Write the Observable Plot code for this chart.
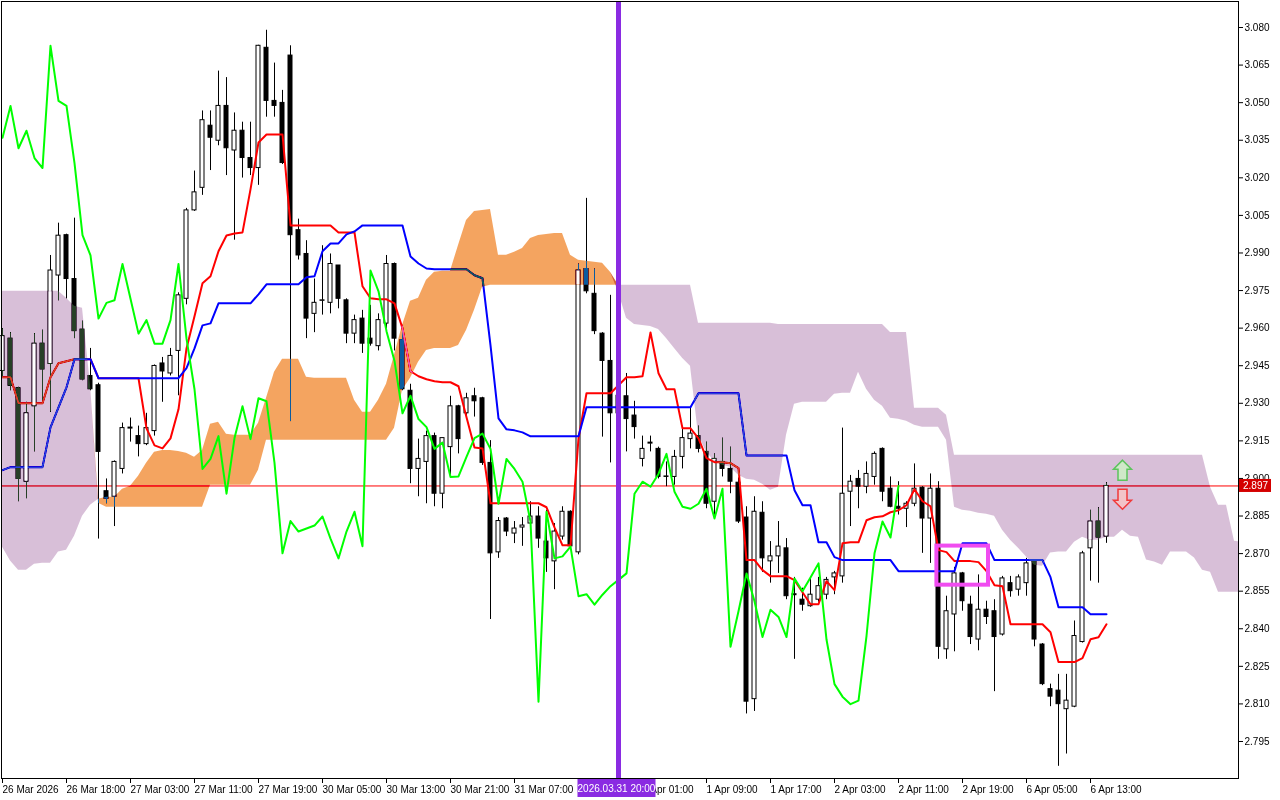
<!DOCTYPE html>
<html>
<head>
<meta charset="utf-8">
<script src="https://cdn.jsdelivr.net/npm/d3@7"></script>
<script src="https://cdn.jsdelivr.net/npm/@observablehq/plot@0.6"></script>
<style>
  html, body { margin: 0; padding: 0; background: #ffffff; }
  #chart { width: 1280px; height: 800px; overflow: hidden; }
  #chart svg { display: block; }
</style>
</head>
<body>
<div id="chart"></div>
<script>
// ---------- DATA (hourly bars, index 0 = 26 Mar 2026 10:00) ----------
const opens = [2.9429,2.9558,2.9360,2.8987,2.9288,2.9538,2.9457,2.9810,2.9971,2.9796,
 2.9594,2.9409,2.9372,2.8949,2.8927,2.9038,2.9199,2.9169,2.9137,2.9189,
 2.9459,2.9419,2.9509,2.9717,3.0070,3.0160,3.0408,3.0348,3.0487,3.0309,
 3.0388,3.0279,3.0239,3.0719,3.0507,3.0499,3.0688,2.9991,2.9896,2.9657,
 2.9709,2.9701,2.9850,2.9711,2.9578,2.9638,2.9558,2.9528,2.9618,2.9856,
 2.9552,2.9350,2.9038,2.9066,2.9169,2.8939,2.9125,2.9288,2.9260,2.9328,
 2.9320,2.9062,2.8705,2.8840,2.8780,2.8804,2.8820,2.8848,2.8748,2.8669,
 2.8768,2.8867,2.8705,2.9836,2.9737,2.9578,2.9469,2.9260,2.9328,2.9251,
 2.9078,2.9139,2.9118,2.9006,2.9006,2.9086,2.9157,2.9169,2.9106,2.8907,
 2.9066,2.9038,2.8983,2.8844,2.8119,2.8863,2.8669,2.8689,2.8721,2.8534,
 2.8516,2.8490,2.8516,2.8536,2.8605,2.8609,2.8947,2.8998,2.8967,2.9006,
 2.9118,2.8959,2.8887,2.8879,2.8899,2.8963,2.8840,2.8959,2.8318,2.8457,
 2.8621,2.8496,2.8357,2.8476,2.8470,2.8377,2.8582,2.8556,2.8582,2.8669,
 2.8337,2.8159,2.8153,2.8079,2.8089,2.8347,2.8721,2.8828,2.8768];
const highs = [2.9598,2.9582,2.9364,2.9304,2.9578,2.9592,2.9890,3.0019,2.9975,3.0039,
 2.9628,2.9519,2.9380,2.8998,2.9070,2.9221,2.9241,2.9209,2.9260,2.9453,
 2.9483,2.9519,2.9741,3.0078,3.0227,3.0467,3.0467,3.0626,3.0600,3.0459,
 3.0422,3.0422,3.0729,3.0789,3.0658,3.0549,3.0727,3.0035,2.9949,2.9796,
 2.9929,2.9896,2.9850,2.9717,2.9652,2.9671,2.9691,2.9657,2.9890,2.9860,
 2.9598,2.9376,2.9157,2.9189,2.9181,2.9161,2.9328,2.9292,2.9340,2.9360,
 2.9324,2.9151,2.8844,2.8844,2.8828,2.8844,2.8907,2.8887,2.8873,2.8820,
 2.8887,2.8871,2.9856,3.0118,2.9836,2.9582,2.9731,2.9370,2.9419,2.9308,
 2.9169,2.9169,2.9125,2.9066,2.9112,2.9197,2.9280,2.9209,2.9145,2.9098,
 2.9161,2.9125,2.9002,2.8887,2.8927,2.8907,2.8748,2.8828,2.8760,2.8605,
 2.8562,2.8601,2.8605,2.8605,2.8629,2.9201,2.9012,2.9032,2.9066,2.9106,
 2.9122,2.9006,2.8987,2.8907,2.9058,2.8967,2.9018,2.8987,2.8530,2.8645,
 2.8625,2.8530,2.8615,2.8510,2.8516,2.8609,2.8609,2.8615,2.8681,2.8675,
 2.8341,2.8179,2.8218,2.8218,2.8431,2.8709,2.8873,2.8883,2.8983];
const lows = [2.9399,2.9350,2.8907,2.8919,2.9106,2.9310,2.9264,2.9709,2.9717,2.9558,
 2.9390,2.9350,2.8758,2.8899,2.8808,2.9018,2.9145,2.9086,2.9131,2.9169,
 2.9304,2.9409,2.9330,2.9693,3.0066,3.0130,3.0229,3.0328,3.0209,2.9951,
 3.0199,3.0209,3.0170,3.0442,3.0442,3.0253,2.9227,2.9872,2.9558,2.9582,
 2.9652,2.9657,2.9677,2.9538,2.9538,2.9499,2.9528,2.9509,2.9598,2.9509,
 2.9350,2.8979,2.8927,2.8899,2.8887,2.8879,2.9006,2.9098,2.9241,2.9245,
 2.9052,2.8437,2.8681,2.8768,2.8740,2.8729,2.8804,2.8721,2.8625,2.8556,
 2.8754,2.8721,2.8695,2.9737,2.9574,2.9165,2.9062,2.9220,2.9106,2.9157,
 2.9046,2.9106,2.8998,2.8967,2.8973,2.9038,2.9118,2.9102,2.8879,2.8848,
 2.9006,2.8939,2.8820,2.8060,2.8070,2.8625,2.8582,2.8621,2.8516,2.8278,
 2.8470,2.8486,2.8506,2.8516,2.8536,2.8582,2.8808,2.8879,2.8939,2.8973,
 2.8907,2.8883,2.8854,2.8804,2.8887,2.8701,2.8661,2.8278,2.8278,2.8308,
 2.8470,2.8337,2.8312,2.8417,2.8149,2.8371,2.8526,2.8530,2.8530,2.8328,
 2.8173,2.8089,2.7851,2.7900,2.8085,2.8343,2.8590,2.8582,2.8741];
const closes = [2.9568,2.9370,2.8998,2.9260,2.9538,2.9435,2.9830,2.9969,2.9796,2.9588,
 2.9395,2.9356,2.9106,2.8919,2.9066,2.9201,2.9203,2.9137,2.9201,2.9449,
 2.9427,2.9489,2.9731,3.0070,3.0142,3.0430,3.0360,3.0487,3.0318,3.0388,
 3.0279,3.0239,3.0727,3.0507,3.0487,3.0259,2.9971,2.9890,2.9638,2.9701,
 2.9711,2.9856,2.9717,2.9578,2.9632,2.9538,2.9538,2.9632,2.9856,2.9558,
 2.9356,2.9038,2.9078,2.9169,2.8939,2.9161,2.9288,2.9157,2.9320,2.9308,
 2.9062,2.8701,2.8830,2.8788,2.8800,2.8812,2.8848,2.8760,2.8681,2.8788,
 2.8867,2.8729,2.9830,2.9747,2.9588,2.9469,2.9260,2.9330,2.9237,2.9205,
 2.9118,2.9143,2.9006,2.9008,2.9086,2.9161,2.9179,2.9118,2.8899,2.9078,
 2.9038,2.8987,2.8828,2.8109,2.8867,2.8681,2.8689,2.8728,2.8530,2.8538,
 2.8496,2.8536,2.8570,2.8595,2.8621,2.8939,2.8987,2.8967,2.9018,2.9098,
 2.8947,2.8887,2.8879,2.8899,2.8959,2.8840,2.8959,2.8328,2.8470,2.8621,
 2.8510,2.8367,2.8476,2.8447,2.8367,2.8601,2.8550,2.8605,2.8661,2.8357,
 2.8179,2.8129,2.8099,2.8113,2.8371,2.8701,2.8828,2.8764,2.8970];

// Ichimoku lines
const tenkan = [2.9404,2.9404,2.9300,2.9300,2.9300,2.9300,2.9404,2.9460,2.9468,2.9476,
 2.9476,2.9476,2.9400,2.9400,2.9400,2.9400,2.9400,2.9400,2.9200,2.9132,
 2.9120,2.9160,2.9276,2.9519,2.9647,2.9779,2.9807,2.9907,2.9970,2.9978,
 2.9982,3.0154,3.0341,3.0373,3.0373,3.0373,3.0010,3.0010,3.0010,3.0010,
 3.0010,3.0010,2.9982,2.9982,2.9982,2.9767,2.9719,2.9715,2.9715,2.9699,
 2.9599,2.9428,2.9408,2.9396,2.9388,2.9384,2.9384,2.9368,2.9244,2.9124,
 2.9120,2.8901,2.8901,2.8901,2.8901,2.8901,2.8901,2.8901,2.8885,2.8805,
 2.8733,2.8733,2.9160,2.9340,2.9340,2.9340,2.9340,2.9372,2.9404,2.9404,
 2.9408,2.9583,2.9420,2.9356,2.9356,2.9200,2.9200,2.9160,2.9081,2.9065,
 2.9065,2.9061,2.9041,2.8674,2.8674,2.8634,2.8610,2.8610,2.8610,2.8594,
 2.8546,2.8498,2.8498,2.8590,2.8554,2.8741,2.8745,2.8745,2.8833,2.8845,
 2.8849,2.8865,2.8873,2.8893,2.8957,2.8909,2.8889,2.8714,2.8706,2.8670,
 2.8670,2.8670,2.8666,2.8630,2.8574,2.8570,2.8418,2.8418,2.8418,2.8418,
 2.8418,2.8386,2.8267,2.8267,2.8267,2.8283,2.8358,2.8366,2.8418];
const kijun = [2.9033,2.9045,2.9045,2.9045,2.9045,2.9045,2.9204,2.9284,2.9364,2.9476,
 2.9476,2.9476,2.9400,2.9400,2.9400,2.9400,2.9400,2.9400,2.9400,2.9400,
 2.9400,2.9400,2.9400,2.9440,2.9519,2.9611,2.9619,2.9699,2.9699,2.9699,
 2.9699,2.9699,2.9735,2.9775,2.9775,2.9775,2.9775,2.9775,2.9803,2.9807,
 2.9907,2.9938,2.9938,2.9974,2.9986,3.0010,3.0010,3.0010,3.0010,3.0010,
 3.0010,2.9886,2.9858,2.9838,2.9835,2.9835,2.9835,2.9835,2.9835,2.9811,
 2.9799,2.9531,2.9240,2.9196,2.9192,2.9184,2.9168,2.9168,2.9168,2.9168,
 2.9168,2.9168,2.9168,2.9284,2.9284,2.9284,2.9284,2.9284,2.9284,2.9284,
 2.9284,2.9284,2.9284,2.9284,2.9284,2.9284,2.9284,2.9340,2.9340,2.9340,
 2.9340,2.9340,2.9340,2.9092,2.9092,2.9092,2.9092,2.9092,2.9092,2.8953,
 2.8893,2.8893,2.8745,2.8745,2.8686,2.8674,2.8674,2.8674,2.8674,2.8674,
 2.8674,2.8674,2.8630,2.8630,2.8630,2.8630,2.8630,2.8630,2.8630,2.8630,
 2.8741,2.8741,2.8741,2.8741,2.8674,2.8674,2.8674,2.8674,2.8674,2.8674,
 2.8674,2.8606,2.8486,2.8486,2.8486,2.8486,2.8458,2.8458,2.8458];
const senkouA = [2.8725,2.8670,2.8634,2.8634,2.8658,2.8662,2.8662,2.8706,2.8713,2.8769,
 2.8849,2.8893,2.8917,2.8925,2.8925,2.8957,2.8969,2.9009,2.9061,2.9105,
 2.9112,2.9112,2.9108,2.9101,2.9085,2.9112,2.9216,2.9224,2.9176,2.9172,
 2.9172,2.9172,2.9220,2.9320,2.9424,2.9476,2.9476,2.9476,2.9404,2.9400,
 2.9400,2.9400,2.9400,2.9400,2.9312,2.9264,2.9264,2.9312,2.9376,2.9492,
 2.9611,2.9707,2.9719,2.9791,2.9823,2.9827,2.9827,2.9930,3.0030,3.0066,
 3.0070,3.0074,2.9891,2.9891,2.9903,2.9918,2.9958,2.9970,2.9974,2.9978,
 2.9978,2.9891,2.9871,2.9867,2.9863,2.9859,2.9823,2.9743,2.9639,2.9615,
 2.9611,2.9607,2.9595,2.9559,2.9519,2.9480,2.9448,2.9172,2.9105,2.9069,
 2.9053,2.9045,2.9013,2.8997,2.8993,2.8977,2.8953,2.8965,2.9172,2.9296,
 2.9304,2.9304,2.9304,2.9304,2.9336,2.9340,2.9340,2.9424,2.9356,2.9312,
 2.9288,2.9240,2.9236,2.9228,2.9212,2.9204,2.9204,2.9204,2.9152,2.8885,
 2.8873,2.8869,2.8861,2.8857,2.8849,2.8793,2.8753,2.8721,2.8686,2.8654,
 2.8650,2.8702,2.8706,2.8706,2.8745,2.8765,2.8753,2.8753,2.8765,2.8765,
 2.8793,2.8769,2.8765,2.8674,2.8666,2.8654,2.8706,2.8706,2.8706,2.8682,
 2.8634,2.8626,2.8546,2.8546,2.8546,2.8546];
const senkouB = [2.9747,2.9747,2.9747,2.9747,2.9747,2.9747,2.9747,2.9747,2.9719,2.9687,
 2.9679,2.9372,2.8901,2.8885,2.8885,2.8885,2.8885,2.8885,2.8885,2.8885,
 2.8885,2.8885,2.8885,2.8885,2.8885,2.8885,2.8973,2.8973,2.8973,2.8973,
 2.8973,2.8973,2.9033,2.9152,2.9152,2.9152,2.9152,2.9152,2.9152,2.9152,
 2.9152,2.9152,2.9152,2.9152,2.9152,2.9152,2.9152,2.9152,2.9152,2.9200,
 2.9352,2.9400,2.9464,2.9511,2.9519,2.9519,2.9519,2.9531,2.9591,2.9671,
 2.9763,2.9771,2.9771,2.9771,2.9771,2.9771,2.9771,2.9771,2.9771,2.9771,
 2.9771,2.9771,2.9771,2.9771,2.9771,2.9771,2.9771,2.9771,2.9771,2.9771,
 2.9771,2.9771,2.9771,2.9771,2.9771,2.9771,2.9771,2.9619,2.9619,2.9619,
 2.9619,2.9619,2.9619,2.9619,2.9619,2.9619,2.9619,2.9615,2.9615,2.9615,
 2.9615,2.9615,2.9615,2.9615,2.9615,2.9615,2.9615,2.9615,2.9615,2.9615,
 2.9615,2.9583,2.9583,2.9583,2.9280,2.9280,2.9280,2.9280,2.9252,2.9093,
 2.9093,2.9093,2.9093,2.9093,2.9093,2.9093,2.9093,2.9093,2.9093,2.9093,
 2.9093,2.9093,2.9093,2.9093,2.9093,2.9093,2.9093,2.9093,2.9093,2.9093,
 2.9093,2.9093,2.9093,2.9093,2.9093,2.9093,2.9093,2.9093,2.9093,2.9093,
 2.9093,2.8965,2.8893,2.8893,2.8749,2.8745];
const chikouShift = 26;

const priceTicks = [2.795,2.810,2.825,2.840,2.855,2.870,2.885,2.900,2.915,2.930,
 2.945,2.960,2.975,2.990,3.005,3.020,3.035,3.050,3.065,3.080];
const timeTickBars = [0,8,16,24,32,40,48,56,64,80,88,96,104,112,120,128,136];
const timeTickLabels = ["26 Mar 2026","26 Mar 18:00","27 Mar 03:00","27 Mar 11:00","27 Mar 19:00",
 "30 Mar 05:00","30 Mar 13:00","30 Mar 21:00","31 Mar 07:00","1 Apr 01:00",
 "1 Apr 09:00","1 Apr 17:00","2 Apr 03:00","2 Apr 11:00","2 Apr 19:00","6 Apr 05:00","6 Apr 13:00"];

const lastPrice = 2.897;
const markerBar = 77;
const markerLabel = "2026.03.31 20:00";
const boxBars = [116.8, 123.25];
const boxPrices = [2.8574, 2.8730];
const arrowUpBars = [140];
const arrowUpPrices = [2.9033];
const arrowDownBars = [140];
const arrowDownPrices = [2.8917];

// ---------- derived tables ----------
const bars = opens.map((o, i) => ({k: i, o, h: highs[i], l: lows[i], c: closes[i]}));
const bull = bars.filter(d => d.c >= d.o);
const bear = bars.filter(d => d.c < d.o);
const tenkanData = tenkan.map((v, i) => ({k: i, v}));
const kijunData = kijun.map((v, i) => ({k: i, v}));
const cloud = senkouA.map((a, i) => ({k: i, a, b: senkouB[i]}));
const chikou = closes.slice(chikouShift).map((c, i) => ({k: i, c}));
const patches = bull.map(d => {
  const cl = cloud[d.k];
  const lo = Math.max(Math.min(d.o, d.c), Math.min(cl.a, cl.b));
  const hi = Math.min(Math.max(d.o, d.c), Math.max(cl.a, cl.b));
  return {k: d.k, lo, hi};
}).filter(p => p.hi > p.lo);
const box = [{x1: boxBars[0], x2: boxBars[1], y1: boxPrices[0], y2: boxPrices[1]}];
const upArrows = arrowUpBars.map((k, i) => ({k, p: arrowUpPrices[i]}));
const downArrows = arrowDownBars.map((k, i) => ({k, p: arrowDownPrices[i]}));

// hollow block-arrow symbols (d3 symbol type interface)
function arrowSymbol(dir) {
  return {
    draw(ctx, size) {
      const r = Math.sqrt(size / Math.PI) / 10;
      const pts = [[0,-10],[9,-1],[4.5,-1],[4.5,10],[-4.5,10],[-4.5,-1],[-9,-1]];
      pts.forEach(([x, y], i) => {
        const yy = dir === "up" ? y * r : -y * r;
        if (i === 0) ctx.moveTo(x * r, yy); else ctx.lineTo(x * r, yy);
      });
      ctx.closePath();
    }
  };
}

const half = 0.25;
const font = "Liberation Sans, Arial, sans-serif";

const chart = Plot.plot({
  width: 1280,
  height: 800,
  marginLeft: 1,
  marginRight: 42,
  marginTop: 1,
  marginBottom: 22,
  style: {fontFamily: font, fontSize: "10px", background: "white", overflow: "visible"},
  x: {type: "linear", domain: [-0.125, 154.5], range: [1, 1238], label: null},
  y: {type: "linear", domain: [2.78023, 3.09038], range: [778, 1], label: null},
  marks: [
    Plot.frame({fill: "white"}),
    Plot.ruleY([lastPrice], {stroke: "#FF0000", strokeWidth: 1}),
    Plot.ruleX(bars, {x: "k", y1: "l", y2: "h", stroke: "black", strokeWidth: 1}),
    Plot.rect(bull, {x1: d => d.k - half, x2: d => d.k + half, y1: "o", y2: "c", fill: "white", stroke: "black", strokeWidth: 1}),
    Plot.rect(bear, {x1: d => d.k - half, x2: d => d.k + half, y1: "o", y2: "c", fill: "black", stroke: "black", strokeWidth: 1}),
    Plot.line(tenkanData, {x: "k", y: "v", stroke: "#FF0000", strokeWidth: 2}),
    Plot.line(kijunData, {x: "k", y: "v", stroke: "#0000FF", strokeWidth: 2}),
    // cloud: inverted colours + difference blend => sandybrown / thistle on white
    Plot.areaY(cloud, {x: "k", y1: "b", y2: d => Math.max(d.a, d.b), fill: "#0B5B9F", mixBlendMode: "difference", clip: true}),
    Plot.areaY(cloud, {x: "k", y1: "a", y2: d => Math.max(d.a, d.b), fill: "#274027", mixBlendMode: "difference", clip: true}),
    Plot.rect(patches, {x1: d => d.k - half, x2: d => d.k + half, y1: "lo", y2: "hi", fill: "white", insetLeft: 0.5, insetRight: 0.5, insetTop: 0.5, insetBottom: 0.5}),
    Plot.line(chikou, {x: "k", y: "c", stroke: "#00FF00", strokeWidth: 2}),
    Plot.rect(box, {x1: "x1", x2: "x2", y1: "y1", y2: "y2", fill: "none", stroke: "#F04CF0", strokeWidth: 4}),
    Plot.ruleX([markerBar], {stroke: "#8A2BE2", strokeWidth: 5}),
    Plot.dot(upArrows, {x: "k", y: "p", r: 10, symbol: arrowSymbol("up"), fill: "#CFE8C8", stroke: "#5CC45C", strokeWidth: 1.5}),
    Plot.dot(downArrows, {x: "k", y: "p", r: 10, symbol: arrowSymbol("down"), fill: "#F2C4C8", stroke: "#F03A3A", strokeWidth: 1.5}),
    Plot.frame({stroke: "black"}),
    Plot.axisY(priceTicks, {anchor: "right", tickSize: 4, tickPadding: 2, tickFormat: d3.format(".3f"), label: null, fontSize: 10}),
    Plot.axisX(timeTickBars, {anchor: "bottom", tickSize: 5, tickPadding: 2, textAnchor: "start", label: null, fontSize: 10,
      tickFormat: d => timeTickLabels[timeTickBars.indexOf(d)]})
  ]
});
document.getElementById("chart").appendChild(chart);

// ensure the blend mode on cloud groups
d3.select(chart).selectAll('g[aria-label="area"]').style("mix-blend-mode", "difference");

// price tag and time marker tag
const sx = chart.scale("x"), sy = chart.scale("y");
const svg = d3.select(chart);
const py = sy.apply(lastPrice);
const tag = svg.append("g");
tag.append("rect").attr("x", 1239).attr("y", py - 6.5).attr("width", 32).attr("height", 13).attr("fill", "#D40000");
tag.append("text").attr("x", 1243).attr("y", py).attr("dy", "0.35em").attr("text-anchor", "start").attr("fill", "white")
  .attr("font-family", font).attr("font-size", 10).text(lastPrice.toFixed(3));
const mx = sx.apply(markerBar);
const dt = svg.append("g");
dt.append("rect").attr("x", mx - 40.5).attr("y", 779).attr("width", 78).attr("height", 18).attr("fill", "#8A2BE2");
dt.append("text").attr("x", mx - 1.5).attr("y", 788).attr("dy", "0.35em").attr("text-anchor", "middle")
  .attr("fill", "white").attr("font-family", font).attr("font-size", 10).text(markerLabel);
</script>
</body>
</html>
